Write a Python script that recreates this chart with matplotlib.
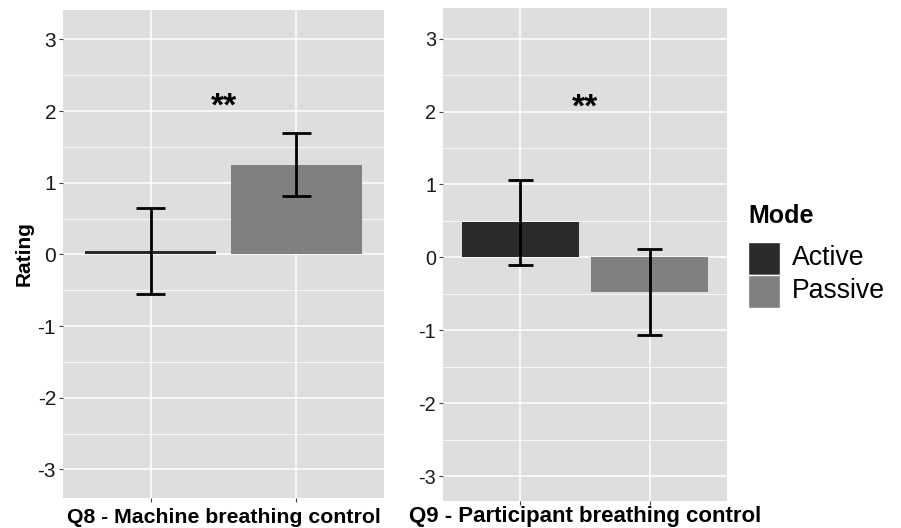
import matplotlib.pyplot as plt
from matplotlib.patches import Rectangle

plt.rcParams['font.family'] = ['Liberation Sans', 'DejaVu Sans']
plt.rcParams['axes.unicode_minus'] = False

modes = ['Active', 'Passive']
mode_colors = ['#2b2b2b', '#808080']
questions = ['Q8 - Machine breathing control', 'Q9 - Participant breathing control']
means = [[0.04, 1.25], [0.48, -0.48]]
err_low = [[-0.55, 0.82], [-0.11, -1.06]]
err_high = [[0.65, 1.69], [1.06, 0.11]]
sig_labels = ['**', '**']
sig_y = [1.84, 1.84]
yticks = [-3, -2, -1, 0, 1, 2, 3]

W, H = 901, 528
fig = plt.figure(figsize=(W / 100, H / 100), dpi=100)

# panel boxes in pixels: left, top, right, bottom
boxes = [(63, 10, 384, 498), (443, 8, 727, 501)]
ylims = [(-3.4, 3.41), (-3.34, 3.42)]
tick_sizes = [15, 14.2]
title_sizes = [15.3, 16]

axes = []
for i, (l, t, r, b) in enumerate(boxes):
    ax = fig.add_axes([l / W, (H - b) / H, (r - l) / W, (b - t) / H])
    axes.append(ax)
    ax.set_facecolor('#dedede')
    for s in ax.spines.values():
        s.set_visible(False)
    x = [1, 2]
    ax.bar(x, means[i], width=0.9, color=mode_colors, zorder=2)
    # error bars
    ax.vlines(x, err_low[i], err_high[i], color='black', lw=2, zorder=3)
    for xi, lo, hi in zip(x, err_low[i], err_high[i]):
        ax.hlines([lo, hi], xi - 0.1, xi + 0.1, color='black', lw=2, zorder=3)
    ax.text(1.5, sig_y[i], sig_labels[i], ha='center', va='bottom',
            fontsize=24, fontweight='bold')
    ax.set_xlim(0.4, 2.6)
    ax.set_ylim(*ylims[i])
    ax.set_xticks(x)
    ax.set_xticklabels(['', ''])
    ax.set_yticks(yticks)
    ax.set_yticks([v + 0.5 for v in yticks[:-1]], minor=True)
    ax.grid(True, which='major', color='white', lw=1.1, zorder=0)
    ax.grid(True, which='minor', axis='y', color='white', lw=0.55, zorder=0)
    ax.set_axisbelow(True)
    ax.tick_params(axis='both', which='major', length=3, width=0.8, color='#444444',
                   labelsize=tick_sizes[i], labelcolor='#1a1a1a', pad=2)
    ax.tick_params(axis='both', which='minor', length=0)
    ax.set_xlabel(questions[i], fontsize=title_sizes[i], fontweight='bold', va='bottom')
    # keep the title just inside the bottom edge
    ax.xaxis.set_label_coords(0.5, -(527 - b) / (b - t))

axes[0].set_ylabel('Rating', fontsize=15, fontweight='bold', labelpad=3)

# legend drawn by hand, pixel positions
fig.text(748 / W, 1 - 216 / H, 'Mode', fontsize=18, fontweight='bold',
         ha='left', va='center')
for k, (lab, col) in enumerate(zip(modes, mode_colors)):
    top = 242 + 33 * k
    fig.add_artist(Rectangle((748 / W, 1 - (top + 33) / H), 32 / W, 33 / H,
                             transform=fig.transFigure, facecolor=col,
                             edgecolor='white', lw=1))
    fig.text(792 / W, 1 - (top + 16.5) / H, lab, fontsize=19.2,
             ha='left', va='center')

fig.savefig('out.png', dpi=100)
